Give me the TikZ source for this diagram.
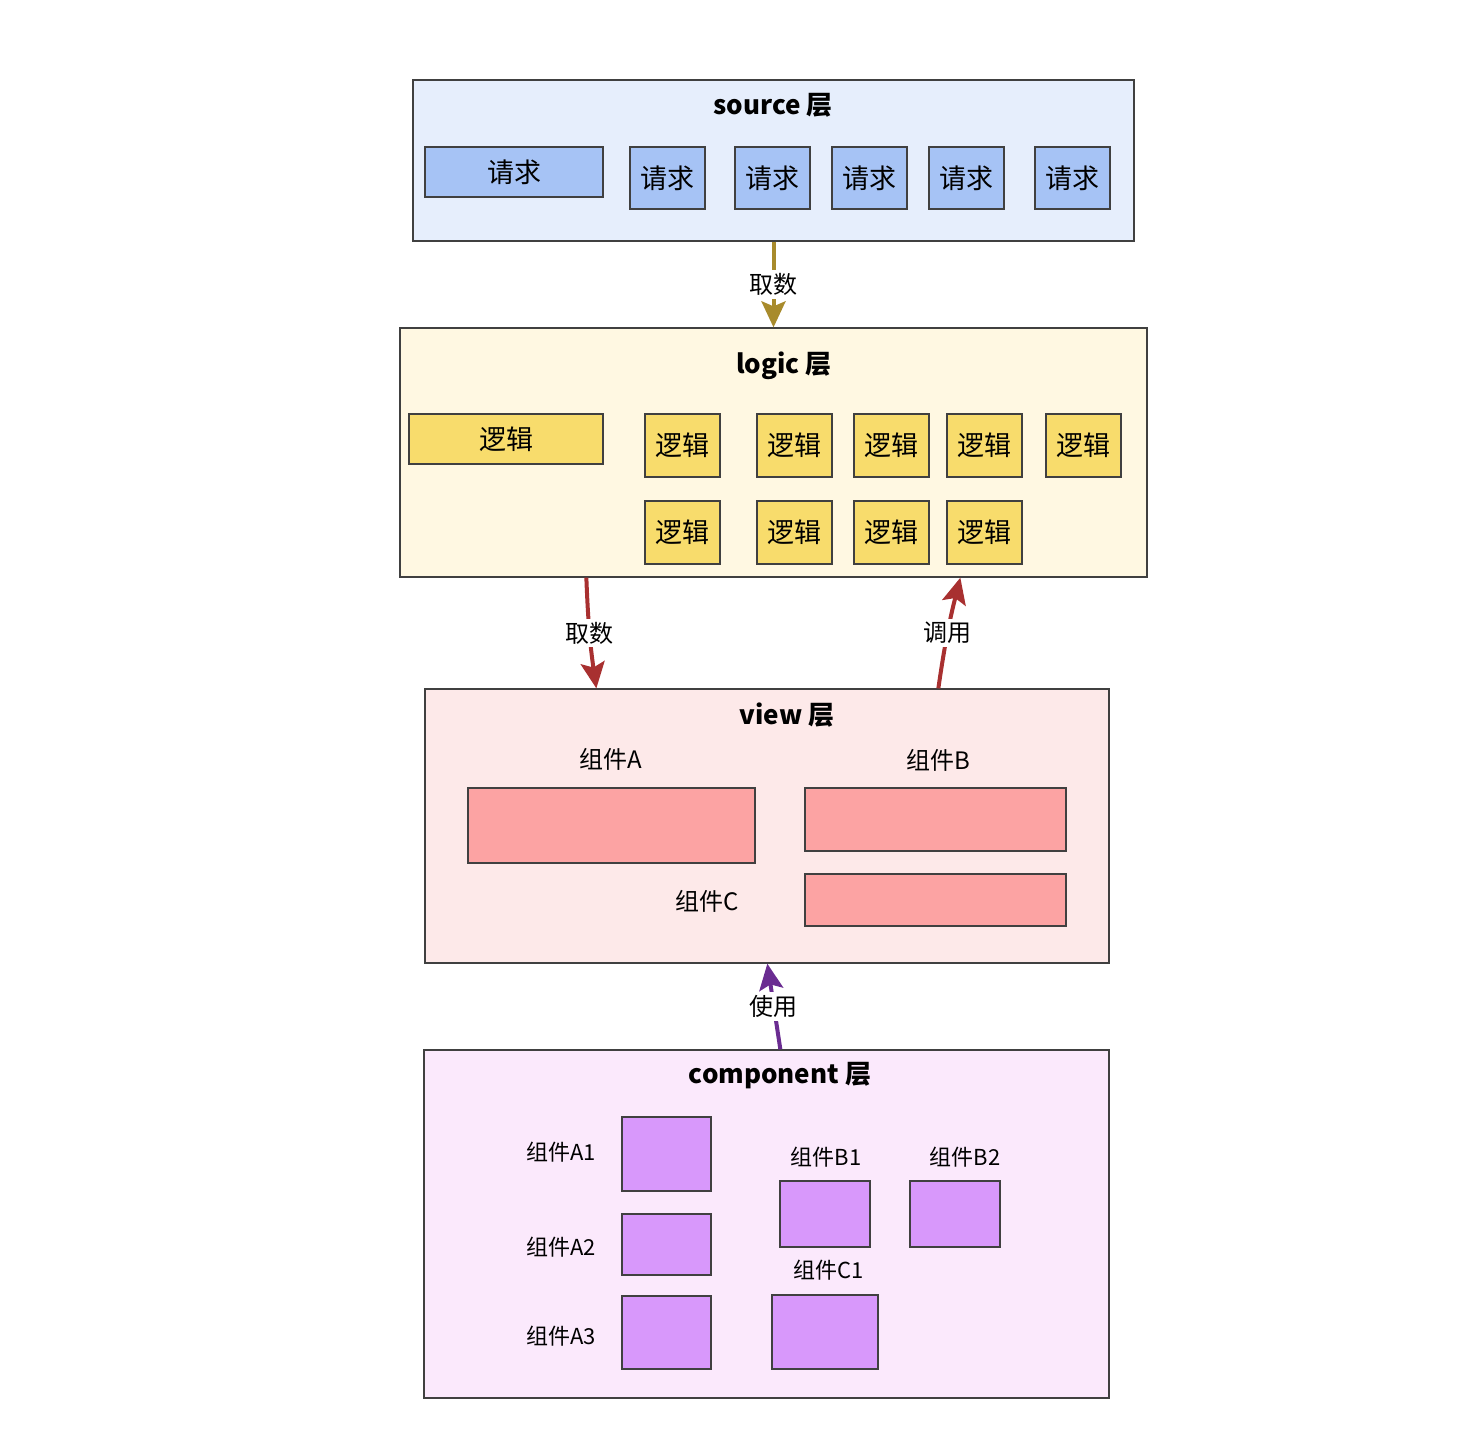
\documentclass[tikz,border=0pt]{standalone}
\usepackage{fontspec}
\setmainfont{Noto Sans CJK SC}
\usepackage{tikz}
\usetikzlibrary{arrows.meta}

\definecolor{srcfill}{HTML}{E6EEFC}
\definecolor{reqfill}{HTML}{A6C3F5}
\definecolor{logicfill}{HTML}{FFF8E2}
\definecolor{logfill}{HTML}{F8DC6C}
\definecolor{viewfill}{HTML}{FDE9E9}
\definecolor{compfill}{HTML}{FCA3A3}
\definecolor{cmpfill}{HTML}{FBE9FC}
\definecolor{partfill}{HTML}{D898FB}
\definecolor{goldarr}{HTML}{A88B2C}
\definecolor{redarr}{HTML}{A83030}
\definecolor{purarr}{HTML}{6A2C91}

\begin{document}
\begin{tikzpicture}[x=1pt,y=-1pt,every node/.style={inner sep=0pt},
    layerbox/.style={draw=black!75, line width=1.3pt},
    box/.style={draw=black!75, line width=1.2pt, font=\fontsize{27}{30}\selectfont},
    titletext/.style={font=\bfseries\fontsize{26}{30}\selectfont},
    captext/.style={font=\fontsize{24}{28}\selectfont},
    smalltext/.style={font=\fontsize{22}{26}\selectfont},
    lbl/.style={fill=white, inner sep=3pt, font=\fontsize{24}{28}\selectfont, text=black},
    flow/.style={->, line width=4pt},
    >={Stealth[length=26pt,width=24pt,inset=5pt]}]
                \useasboundingbox (0,0) rectangle (1460,1428);
                % layers
                \node[layerbox, fill=srcfill, minimum width=721pt, minimum height=161pt] (src) at (773.5,160.5) {};
                \node[layerbox, fill=logicfill, minimum width=747pt, minimum height=249pt] (logic) at (773.5,452.5) {};
                \node[layerbox, fill=viewfill, minimum width=684pt, minimum height=274pt] (view) at (767,826) {};
                \node[layerbox, fill=cmpfill, minimum width=685pt, minimum height=348pt] (comp) at (766.5,1224) {};
                \node[titletext] (srct) at (773,105) {source 层};
                \node[titletext] (logict) at (784,366) {logic 层};
                \node[titletext] (viewt) at (787,715) {view 层};
                \node[titletext] (compt) at (780,1076) {component 层};
                % source
                \node[box, fill=reqfill, minimum width=178pt, minimum height=50pt] (req0) at (514,172) {请求};
                \node[box, fill=reqfill, minimum width=75pt, minimum height=62pt] (req1) at (667.5,178) {请求};
                \node[box, fill=reqfill, minimum width=75pt, minimum height=62pt] (req2) at (772.5,178) {请求};
                \node[box, fill=reqfill, minimum width=75pt, minimum height=62pt] (req3) at (869.5,178) {请求};
                \node[box, fill=reqfill, minimum width=75pt, minimum height=62pt] (req4) at (966.5,178) {请求};
                \node[box, fill=reqfill, minimum width=75pt, minimum height=62pt] (req5) at (1072.5,178) {请求};
                % logic
                \node[box, fill=logfill, minimum width=194pt, minimum height=50pt] (log0) at (506,439) {逻辑};
                \node[box, fill=logfill, minimum width=75pt, minimum height=63pt] (log1) at (682.5,445.5) {逻辑};
                \node[box, fill=logfill, minimum width=75pt, minimum height=63pt] (log2) at (794.5,445.5) {逻辑};
                \node[box, fill=logfill, minimum width=75pt, minimum height=63pt] (log3) at (891.5,445.5) {逻辑};
                \node[box, fill=logfill, minimum width=75pt, minimum height=63pt] (log4) at (984.5,445.5) {逻辑};
                \node[box, fill=logfill, minimum width=75pt, minimum height=63pt] (log5) at (1083.5,445.5) {逻辑};
                \node[box, fill=logfill, minimum width=75pt, minimum height=63pt] (log6) at (682.5,532.5) {逻辑};
                \node[box, fill=logfill, minimum width=75pt, minimum height=63pt] (log7) at (794.5,532.5) {逻辑};
                \node[box, fill=logfill, minimum width=75pt, minimum height=63pt] (log8) at (891.5,532.5) {逻辑};
                \node[box, fill=logfill, minimum width=75pt, minimum height=63pt] (log9) at (984.5,532.5) {逻辑};
                % view
                \node[captext] (capa) at (611,759) {组件A};
                \node[captext] (capb) at (938,760) {组件B};
                \node[captext] (capc) at (707,901) {组件C};
                \node[box, fill=compfill, minimum width=287pt, minimum height=75pt] (cpa) at (611.5,825.5) {};
                \node[box, fill=compfill, minimum width=261pt, minimum height=63pt] (cpb) at (935.5,819.5) {};
                \node[box, fill=compfill, minimum width=261pt, minimum height=52pt] (cpc) at (935.5,900) {};
                % component
                \node[smalltext] (capa1) at (561,1152) {组件A1};
                \node[smalltext] (capa2) at (561,1247) {组件A2};
                \node[smalltext] (capa3) at (561,1336) {组件A3};
                \node[smalltext] (capb1) at (826,1157) {组件B1};
                \node[smalltext] (capb2) at (965,1157) {组件B2};
                \node[smalltext] (capc1) at (829,1270) {组件C1};
                \node[box, fill=partfill, minimum width=89pt, minimum height=74pt] (pa1) at (666.5,1154) {};
                \node[box, fill=partfill, minimum width=89pt, minimum height=61pt] (pa2) at (666.5,1244.5) {};
                \node[box, fill=partfill, minimum width=89pt, minimum height=73pt] (pa3) at (666.5,1332.5) {};
                \node[box, fill=partfill, minimum width=90pt, minimum height=66pt] (pb1) at (825,1214) {};
                \node[box, fill=partfill, minimum width=90pt, minimum height=66pt] (pb2) at (955,1214) {};
                \node[box, fill=partfill, minimum width=106pt, minimum height=74pt] (pc1) at (825,1332) {};
                % arrows
                \draw[flow, goldarr] (src.south) -- node[lbl] {取数} (logic.north);
                \draw[flow, redarr] ([xshift=187pt]logic.south west) to[bend right=3] node[lbl] {取数} ([xshift=172pt]view.north west);
                \draw[flow, redarr] ([xshift=514pt]view.north west) to[bend left=3] node[lbl] {调用} ([xshift=561pt]logic.south west);
                \draw[flow, purarr] ([xshift=357pt]comp.north west) -- node[lbl] {使用} ([xshift=343pt]view.south west);
            \end{tikzpicture}
\end{document}
